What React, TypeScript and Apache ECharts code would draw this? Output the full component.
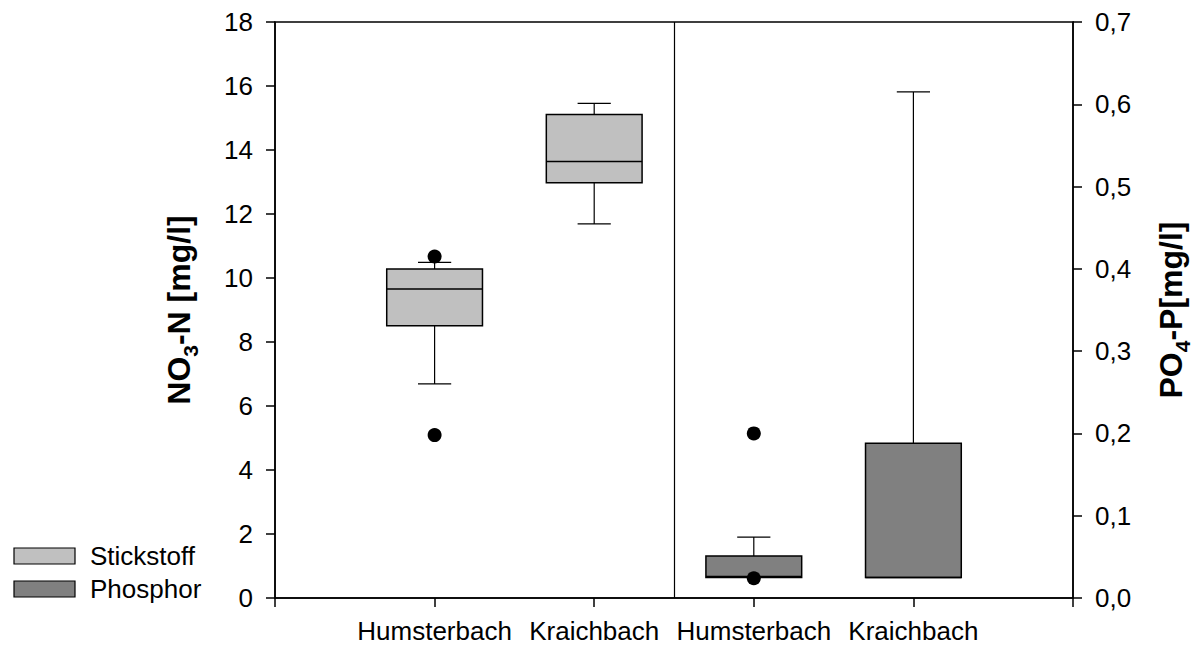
import React, { useEffect, useRef } from "react";
import * as echarts from "echarts";

const categories = ["Humsterbach", "Kraichbach", "Humsterbach", "Kraichbach"];
// box data: [position, min, Q1, median, Q3, max]
const stickstoffBoxes = [
  [1, 6.69, 8.51, 9.66, 10.28, 10.49],
  [2, 11.69, 12.98, 13.64, 15.11, 15.46],
];
const phosphorBoxes = [
  [3, 0.025, 0.025, 0.026, 0.051, 0.074],
  [4, 0.025, 0.025, 0.025, 0.188, 0.615],
];
const stickstoffOutliers = [
  [1, 10.67],
  [1, 5.09],
];
const phosphorOutliers = [
  [3, 0.2],
  [3, 0.024],
];
const dividerX = 2.5;
const seriesNames = ["Stickstoff", "Phosphor"];
const seriesColors = ["#c0c0c0", "#808080"];

const FONT = "Liberation Sans, Arial, Helvetica, sans-serif";

function makeRenderItem(color: string) {
  return (params: any, api: any) => {
    const x = api.value(0);
    const mn = api.value(1);
    const q1 = api.value(2);
    const md = api.value(3);
    const q3 = api.value(4);
    const mx = api.value(5);
    const unit = api.size([1, 0])[0];
    const hb = unit * 0.3;
    const hc = unit * 0.104;
    const pMin = api.coord([x, mn]);
    const pQ1 = api.coord([x, q1]);
    const pMd = api.coord([x, md]);
    const pQ3 = api.coord([x, q3]);
    const pMax = api.coord([x, mx]);
    const cx = pMin[0];
    const ls = { stroke: "#000", lineWidth: 1.2 };
    return {
      type: "group",
      children: [
        { type: "line", shape: { x1: cx, y1: pMax[1], x2: cx, y2: pQ3[1] }, style: ls },
        { type: "line", shape: { x1: cx, y1: pQ1[1], x2: cx, y2: pMin[1] }, style: ls },
        { type: "line", shape: { x1: cx - hc, y1: pMax[1], x2: cx + hc, y2: pMax[1] }, style: ls },
        { type: "line", shape: { x1: cx - hc, y1: pMin[1], x2: cx + hc, y2: pMin[1] }, style: ls },
        {
          type: "rect",
          shape: { x: cx - hb, y: pQ3[1], width: hb * 2, height: pQ1[1] - pQ3[1] },
          style: { fill: color, stroke: "#000", lineWidth: 1.5 },
        },
        { type: "line", shape: { x1: cx - hb, y1: pMd[1], x2: cx + hb, y2: pMd[1] }, style: { stroke: "#000", lineWidth: 1.5 } },
      ],
    };
  };
}

export default function App() {
  const ref = useRef<HTMLDivElement>(null);
  useEffect(() => {
    if (!ref.current) return;
    const chart = echarts.init(ref.current, undefined, { renderer: "svg" });
    const axisLine = { show: true, onZero: false, lineStyle: { color: "#000", width: 1.5 } };
    const axisTick = { show: true, inside: false, length: 9, lineStyle: { color: "#000", width: 1.5 } };
    const labelStyle = { color: "#000", fontSize: 26, fontFamily: FONT };
    const titleRich = {
      a: { fontSize: 32, fontWeight: "bold", fontFamily: FONT, color: "#000", lineHeight: 44, verticalAlign: "middle" },
      s: { fontSize: 21, fontWeight: "bold", fontFamily: FONT, color: "#000", lineHeight: 21, verticalAlign: "bottom" },
    };
    chart.setOption({
      animation: false,
      backgroundColor: "#fff",
      grid: {
        left: 275,
        right: 124,
        top: 22,
        bottom: 47,
        containLabel: false,
        outerBoundsMode: "none",
        show: true,
        borderColor: "#000",
        borderWidth: 1.5,
        backgroundColor: "transparent",
      },
      xAxis: {
        type: "value",
        min: 0,
        max: 5,
        interval: 1,
        axisLine,
        axisTick,
        splitLine: { show: false },
        axisLabel: {
          ...labelStyle,
          lineHeight: 24,
          margin: 21,
          showMinLabel: true,
          showMaxLabel: true,
          formatter: (v: number) => (v >= 1 && v <= categories.length ? categories[v - 1] : ""),
        },
      },
      yAxis: [
        {
          type: "value",
          position: "left",
          min: 0,
          max: 18,
          interval: 2,
          axisLine,
          axisTick,
          splitLine: { show: false },
          axisLabel: { ...labelStyle, margin: 22 },
          name: "{a|NO}{s|3}{a|-N [mg/l]}",
          nameLocation: "middle",
          nameRotate: 90,
          nameGap: 74,
          nameTextStyle: { rich: titleRich },
        },
        {
          type: "value",
          position: "right",
          min: 0,
          max: 0.7,
          interval: 0.1,
          axisLine,
          axisTick,
          splitLine: { show: false },
          axisLabel: { ...labelStyle, margin: 22, formatter: (v: number) => v.toFixed(1).replace(".", ",") },
          name: "{a|PO}{s|4}{a|-P[mg/l]}",
          nameLocation: "middle",
          nameRotate: 90,
          nameGap: 76,
          nameTextStyle: { rich: titleRich },
        },
      ],
      series: [
        {
          name: seriesNames[0],
          type: "custom",
          xAxisIndex: 0,
          yAxisIndex: 0,
          renderItem: makeRenderItem(seriesColors[0]),
          encode: { x: 0, y: [1, 2, 3, 4, 5] },
          data: stickstoffBoxes,
          z: 2,
          markLine: {
            silent: true,
            symbol: "none",
            label: { show: false },
            lineStyle: { color: "#000", width: 1.2, type: "solid" },
            data: [{ xAxis: dividerX }],
          },
        },
        {
          name: seriesNames[1],
          type: "custom",
          xAxisIndex: 0,
          yAxisIndex: 1,
          renderItem: makeRenderItem(seriesColors[1]),
          encode: { x: 0, y: [1, 2, 3, 4, 5] },
          data: phosphorBoxes,
          z: 2,
        },
        {
          type: "scatter",
          xAxisIndex: 0,
          yAxisIndex: 0,
          symbol: "circle",
          symbolSize: 14,
          itemStyle: { color: "#000", opacity: 1 },
          data: stickstoffOutliers,
          z: 5,
        },
        {
          type: "scatter",
          xAxisIndex: 0,
          yAxisIndex: 1,
          symbol: "circle",
          symbolSize: 14,
          itemStyle: { color: "#000", opacity: 1 },
          data: phosphorOutliers,
          z: 5,
        },
      ],
      graphic: [
        {
          type: "rect",
          shape: { x: 14, y: 548, width: 61, height: 16 },
          style: { fill: seriesColors[0], stroke: "#000", lineWidth: 1.2 },
        },
        {
          type: "text",
          x: 90,
          y: 556,
          style: { text: seriesNames[0], fontSize: 26, fontFamily: FONT, fill: "#000", verticalAlign: "middle", align: "left" },
        },
        {
          type: "rect",
          shape: { x: 14, y: 581, width: 61, height: 16 },
          style: { fill: seriesColors[1], stroke: "#000", lineWidth: 1.2 },
        },
        {
          type: "text",
          x: 90,
          y: 589,
          style: { text: seriesNames[1], fontSize: 26, fontFamily: FONT, fill: "#000", verticalAlign: "middle", align: "left" },
        },
      ],
    });
    return () => chart.dispose();
  }, []);
  return <div ref={ref} style={{ position: "absolute", left: 0, top: 0, width: 1197, height: 645 }} />;
}
